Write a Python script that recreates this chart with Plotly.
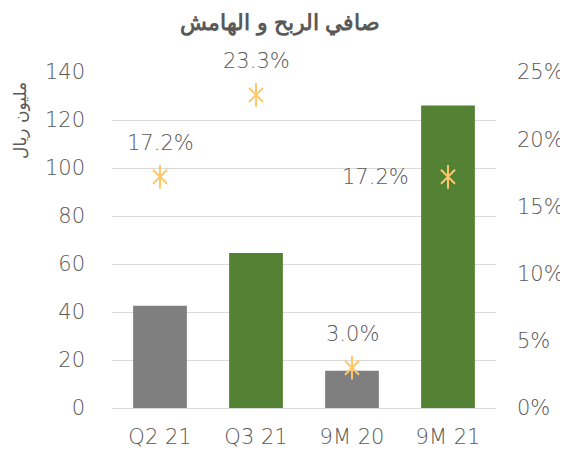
import plotly.graph_objects as go

categories = ["Q2 21", "Q3 21", "9M 20", "9M 21"]
profit = [42.6, 64.6, 15.5, 126.0]
margin = [0.172, 0.233, 0.030, 0.172]
margin_labels = ["17.2%", "23.3%", "3.0%", "17.2%"]
bar_colors = ["#7f7f7f", "#548235", "#7f7f7f", "#548235"]
left_ticks = [0, 20, 40, 60, 80, 100, 120, 140]
right_ticks = [0, 0.05, 0.10, 0.15, 0.20, 0.25]
right_tick_text = ["0%", "5%", "10%", "15%", "20%", "25%"]

font_main = "DejaVu Sans, sans-serif"
grey_txt = "#595959"
marker_col = "#FFC76B"
tick_size = 21
tick_weight = 200

fig = go.Figure()
fig.add_trace(go.Bar(x=categories, y=profit, marker=dict(color=bar_colors, line=dict(width=0)),
                     yaxis="y", showlegend=False, hoverinfo="skip"))
fig.add_trace(go.Scatter(x=categories, y=margin, yaxis="y2", mode="markers",
                         marker=dict(symbol="x-thin-open", size=14, color=marker_col,
                                     line=dict(color=marker_col, width=2)),
                         showlegend=False))
fig.add_trace(go.Scatter(x=categories, y=margin, yaxis="y2", mode="markers",
                         marker=dict(symbol="line-ns-open", size=17, color=marker_col,
                                     line=dict(color=marker_col, width=2)),
                         showlegend=False))

tf = dict(size=tick_size, color=grey_txt, family=font_main, weight=tick_weight)

annotations = []
for i, (c, m, t) in enumerate(zip(categories, margin, margin_labels)):
    if i == len(categories) - 1:
        annotations.append(dict(x=c, y=m, xref="x", yref="y2", text=t, showarrow=False,
                                xanchor="right", yanchor="middle", xshift=-37, font=tf))
    else:
        annotations.append(dict(x=c, y=m, xref="x", yref="y2", text=t, showarrow=False,
                                xanchor="center", yanchor="middle", yshift=34, font=tf))

annotations.append(dict(x=-0.24, y=0.857, xref="paper", yref="paper", text="مليون ريال",
                        textangle=-90, showarrow=False, xanchor="center", yanchor="middle",
                        font=dict(size=17, color=grey_txt, family="DejaVu Sans, sans-serif")))

fig.update_layout(
    width=568, height=453,
    margin=dict(l=104, r=80, t=64, b=53),
    paper_bgcolor="white", plot_bgcolor="white",
    bargap=0.44,
    title=dict(text="<b>صافي الربح و الهامش</b>", x=0.479, xanchor="center", y=0.969,
               yanchor="middle",
               font=dict(size=22, color=grey_txt, family="Liberation Sans, Arial, sans-serif")),
    xaxis=dict(tickfont=tf, showgrid=False,
               showline=False, zeroline=False, ticklabelstandoff=14, automargin=False),
    yaxis=dict(range=[0, 140], tickvals=left_ticks, showgrid=True, gridcolor="#d9d9d9",
               gridwidth=1, zeroline=True, zerolinecolor="#d9d9d9", zerolinewidth=1,
               tickfont=tf, ticklabelstandoff=26, automargin=False),
    yaxis2=dict(range=[0, 0.25], tickvals=right_ticks, ticktext=right_tick_text,
                overlaying="y", side="right", showgrid=False, zeroline=False,
                tickfont=tf, ticklabelstandoff=20, automargin=False),
    annotations=annotations,
)

fig.write_html("out.html")
